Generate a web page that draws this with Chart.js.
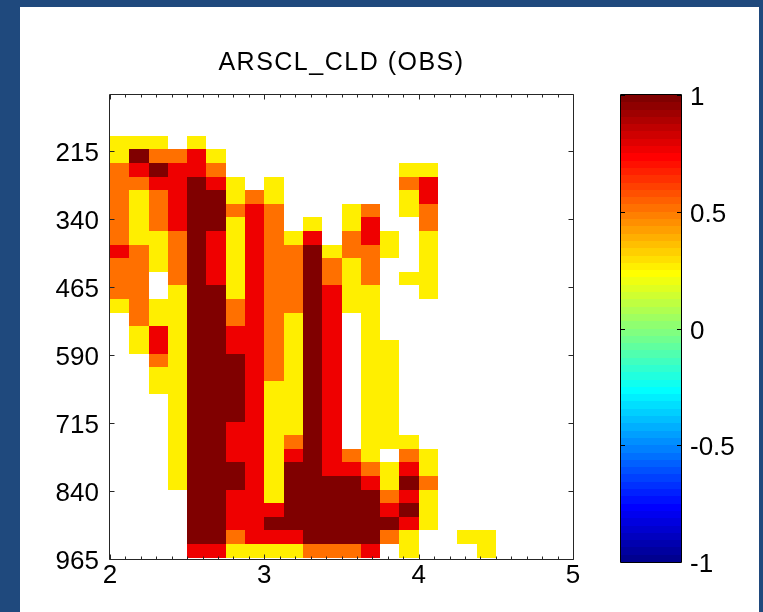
<!DOCTYPE html>
<html>
<head>
<meta charset="utf-8">
<script src="https://cdn.jsdelivr.net/npm/chart.js@4.4.1/dist/chart.umd.min.js"></script>
<style>
  html, body { margin: 0; padding: 0; width: 763px; height: 612px; overflow: hidden; background: #1f497d; }
  #panel { position: absolute; left: 20px; top: 7px; width: 739px; height: 605px; background: #fff; }
  #main { position: absolute; left: 0; top: 0; }
  #cbar { position: absolute; left: 580px; top: 0; }
</style>
</head>
<body>
<div id="panel">
  <canvas id="main" width="580" height="605"></canvas>
  <canvas id="cbar" width="159" height="605"></canvas>
</div>
<script>
// bin centres along x and pressure levels (hPa) of each row
const xCenters = [2.0625, 2.1875, 2.3125, 2.4375, 2.5625, 2.6875, 2.8125, 2.9375, 3.0625, 3.1875,
                  3.3125, 3.4375, 3.5625, 3.6875, 3.8125, 3.9375, 4.0625, 4.1875, 4.3125, 4.4375];
const levels = [200, 225, 250, 275, 300, 325, 350, 375, 400, 425, 450, 475, 500, 525, 550, 575,
                600, 625, 650, 675, 700, 725, 750, 775, 800, 825, 850, 875, 900, 925, 950];
const xTicks = [2, 3, 4, 5];
const yTicks = [215, 340, 465, 590, 715, 840, 965];
const cbTicks = [-1, -0.5, 0, 0.5, 1];

const _ = null;
// one row per level, one column per x bin
const cld = [
  [0.25, 0.25, 0.25, _, 0.25, _, _, _, _, _,          _, _, _, _, _, _, _, _, _, _],
  [0.25, 1, 0.5, 0.5, 0.75, 0.25, _, _, _, _,         _, _, _, _, _, _, _, _, _, _],
  [0.5, 0.75, 1, 0.75, 0.75, 0.5, _, _, _, _,         _, _, _, _, _, 0.25, 0.25, _, _, _],
  [0.5, 0.5, 0.75, 0.75, 1, 0.75, 0.25, _, 0.25, _,   _, _, _, _, _, 0.5, 0.75, _, _, _],
  [0.5, 0.25, 0.5, 0.75, 1, 1, 0.25, 0.5, 0.25, _,    _, _, _, _, _, 0.25, 0.75, _, _, _],
  [0.5, 0.25, 0.5, 0.75, 1, 1, 0.5, 0.75, 0.5, _,     _, _, 0.25, 0.5, _, 0.25, 0.5, _, _, _],
  [0.5, 0.25, 0.5, 0.75, 1, 1, 0.25, 0.75, 0.5, _,    0.25, _, 0.25, 0.75, _, _, 0.5, _, _, _],
  [0.5, 0.25, 0.25, 0.5, 1, 0.75, 0.25, 0.75, 0.5, 0.25,  0.75, _, 0.5, 0.75, 0.25, _, 0.25, _, _, _],
  [0.75, 0.5, 0.25, 0.5, 1, 0.75, 0.25, 0.75, 0.5, 0.5,   1, 0.25, 0.5, 0.5, 0.25, _, 0.25, _, _, _],
  [0.5, 0.5, 0.25, 0.5, 1, 0.75, 0.25, 0.75, 0.5, 0.5,    1, 0.5, 0.25, 0.5, _, _, 0.25, _, _, _],
  [0.5, 0.5, _, 0.5, 1, 0.75, 0.25, 0.75, 0.5, 0.5,       1, 0.5, 0.25, 0.5, _, 0.25, 0.25, _, _, _],
  [0.5, 0.5, _, 0.25, 1, 1, 0.25, 0.75, 0.5, 0.5,         1, 0.75, 0.25, 0.25, _, _, 0.25, _, _, _],
  [0.25, 0.5, 0.25, 0.25, 1, 1, 0.5, 0.75, 0.5, 0.5,      1, 0.75, 0.25, 0.25, _, _, _, _, _, _],
  [_, 0.5, 0.25, 0.25, 1, 1, 0.5, 0.75, 0.5, 0.25,        1, 0.75, _, 0.25, _, _, _, _, _, _],
  [_, 0.25, 0.75, 0.25, 1, 1, 0.75, 0.75, 0.5, 0.25,      1, 0.75, _, 0.25, _, _, _, _, _, _],
  [_, 0.25, 0.75, 0.25, 1, 1, 0.75, 0.75, 0.5, 0.25,      1, 0.75, _, 0.25, 0.25, _, _, _, _, _],
  [_, _, 0.5, 0.25, 1, 1, 1, 0.75, 0.5, 0.25,             1, 0.75, _, 0.25, 0.25, _, _, _, _, _],
  [_, _, 0.25, 0.25, 1, 1, 1, 0.75, 0.5, 0.25,            1, 0.75, _, 0.25, 0.25, _, _, _, _, _],
  [_, _, 0.25, 0.25, 1, 1, 1, 0.75, 0.25, 0.25,           1, 0.75, _, 0.25, 0.25, _, _, _, _, _],
  [_, _, _, 0.25, 1, 1, 1, 0.75, 0.25, 0.25,              1, 0.75, _, 0.25, 0.25, _, _, _, _, _],
  [_, _, _, 0.25, 1, 1, 1, 0.75, 0.25, 0.25,              1, 0.75, _, 0.25, 0.25, _, _, _, _, _],
  [_, _, _, 0.25, 1, 1, 0.75, 0.75, 0.25, 0.25,           1, 0.75, _, 0.25, 0.25, _, _, _, _, _],
  [_, _, _, 0.25, 1, 1, 0.75, 0.75, 0.25, 0.5,            1, 0.75, _, 0.25, 0.25, 0.25, _, _, _, _],
  [_, _, _, 0.25, 1, 1, 0.75, 0.75, 0.25, 0.75,           1, 0.75, 0.5, 0.25, _, 0.5, 0.25, _, _, _],
  [_, _, _, 0.25, 1, 1, 1, 0.75, 0.25, 1,                 1, 0.75, 0.75, 0.5, 0.25, 0.75, 0.25, _, _, _],
  [_, _, _, 0.25, 1, 1, 1, 0.75, 0.25, 1,                 1, 1, 1, 0.75, 0.25, 1, 0.5, _, _, _],
  [_, _, _, _, 1, 1, 0.75, 0.75, 0.25, 1,                 1, 1, 1, 1, 0.5, 0.75, 0.25, _, _, _],
  [_, _, _, _, 1, 1, 0.75, 0.75, 0.75, 1,                 1, 1, 1, 1, 0.75, 1, 0.25, _, _, _],
  [_, _, _, _, 1, 1, 0.75, 0.75, 1, 1,                    1, 1, 1, 1, 1, 0.75, 0.25, _, _, _],
  [_, _, _, _, 1, 1, 0.5, 0.75, 0.75, 0.75,               1, 1, 1, 1, 0.5, 0.25, _, _, 0.25, 0.25],
  [_, _, _, _, 0.75, 0.75, 0.25, 0.25, 0.25, 0.25,        0.5, 0.5, 0.5, 0.75, _, 0.25, _, _, _, 0.25]
];

const binW = 0.125;
const binH = 25;
const cMin = -1, cMax = 1;
const axisColor = '#262626';
const fontFamily = '"Liberation Sans", Arial, Helvetica, sans-serif';

// MATLAB-style jet(64) lookup
function jetRow(k) {
  const u = i => (i <= 16 ? i / 16 : i <= 31 ? 1 : (48 - i) / 16);
  const r = k >= 25 ? u(k - 24) : 0;
  const g = k >= 9 && k <= 55 ? u(k - 8) : 0;
  const b = k <= 39 ? u(k + 8) : 0;
  return 'rgb(' + Math.round(r * 255) + ',' + Math.round(g * 255) + ',' + Math.round(b * 255) + ')';
}
function jetColor(v) {
  const k = Math.floor((v - cMin) / (cMax - cMin) * 64) + 1;
  return jetRow(Math.min(64, Math.max(1, k)));
}

const cells = [];
levels.forEach((p, j) => {
  cld[j].forEach((v, i) => {
    if (v !== null) cells.push({ x: xCenters[i], y: p, v: v });
  });
});

// title is drawn before the datasets; give it a little letter spacing
const titleSpacing = {
  id: 'titleSpacing',
  beforeDraw(chart) { chart.ctx.letterSpacing = '1.5px'; },
  beforeDatasetsDraw(chart) { chart.ctx.letterSpacing = '0px'; }
};

// fill each cell as a rectangle on the chart's own scales
const heatCells = {
  id: 'heatCells',
  beforeDatasetsDraw(chart) {
    const { ctx, chartArea: a, scales: { x, y } } = chart;
    ctx.save();
    ctx.beginPath();
    ctx.rect(a.left, a.top, a.right - a.left, a.bottom - a.top);
    ctx.clip();
    chart.data.datasets[0].data.forEach(c => {
      const l = Math.round(x.getPixelForValue(c.x - binW / 2));
      const r = Math.round(x.getPixelForValue(c.x + binW / 2));
      const t = Math.round(y.getPixelForValue(c.y - binH / 2));
      const b = Math.round(y.getPixelForValue(c.y + binH / 2));
      ctx.fillStyle = jetColor(c.v);
      ctx.fillRect(l, Math.min(t, b), r - l, Math.abs(b - t));
    });
    ctx.restore();
  }
};

// boxed axes with inward ticks on all four sides
const boxTicks = {
  id: 'boxTicks',
  afterDraw(chart) {
    const { ctx, chartArea: a, scales: { x, y } } = chart;
    const L = a.left - 0.5, R = a.right + 0.5, T = a.top - 0.5, B = a.bottom + 0.5;
    ctx.save();
    ctx.strokeStyle = axisColor;
    ctx.lineWidth = 1;
    ctx.beginPath();
    ctx.rect(L, T, R - L, B - T);
    x.ticks.forEach(t => {
      const px = Math.round(x.getPixelForValue(t.value)) + 0.5;
      ctx.moveTo(px, B); ctx.lineTo(px, B - 5);
      ctx.moveTo(px, T); ctx.lineTo(px, T + 5);
    });
    for (let m = 21; m < 50; m++) {
      if (m % 10 === 0) continue;
      const px = Math.round(x.getPixelForValue(m / 10)) + 0.5;
      ctx.moveTo(px, B); ctx.lineTo(px, B - 3);
      ctx.moveTo(px, T); ctx.lineTo(px, T + 3);
    }
    y.ticks.forEach(t => {
      const py = Math.round(y.getPixelForValue(t.value)) + 0.5;
      ctx.moveTo(L, py); ctx.lineTo(L + 5, py);
      ctx.moveTo(R, py); ctx.lineTo(R - 5, py);
    });
    ctx.stroke();
    ctx.restore();
  }
};

Chart.defaults.font.family = fontFamily;
Chart.defaults.color = '#000';

new Chart(document.getElementById('main'), {
  type: 'scatter',
  data: {
    datasets: [{ data: cells, pointRadius: 0, pointHoverRadius: 0 }]
  },
  options: {
    responsive: false,
    animation: false,
    events: [],
    layout: { padding: { left: 0, right: 27, top: 0, bottom: 13 } },
    plugins: {
      legend: { display: false },
      tooltip: { enabled: false },
      title: {
        display: true,
        fullSize: false,
        text: 'ARSCL_CLD (OBS)',
        color: '#000',
        font: { size: 25, weight: 'normal' },
        padding: { top: 41.5, bottom: 16.5 }
      }
    },
    scales: {
      x: {
        type: 'linear',
        min: 2,
        max: 5,
        grid: { display: false, drawTicks: false },
        border: { display: false },
        ticks: { font: { size: 26 }, padding: 1, z: 1 },
        afterBuildTicks: s => { s.ticks = xTicks.map(v => ({ value: v })); },
        afterFit: s => { s.height = 40; s.paddingLeft = 0; s.paddingRight = 0; }
      },
      y: {
        type: 'linear',
        reverse: true,
        min: 112.5,
        max: 965,
        grid: { display: false, drawTicks: false },
        border: { display: false },
        ticks: { font: { size: 26 }, padding: 11, labelOffset: 3, z: 1 },
        afterBuildTicks: s => { s.ticks = yTicks.map(v => ({ value: v })); },
        afterFit: s => { s.width = 90; s.paddingTop = 0; s.paddingBottom = 0; }
      }
    }
  },
  plugins: [titleSpacing, heatCells, boxTicks]
});

// colour bar: 64 jet bands stacked along the value axis
const colorBand = {
  id: 'colorBand',
  beforeDatasetsDraw(chart) {
    const { ctx, chartArea: a, scales: { y } } = chart;
    ctx.save();
    for (let k = 1; k <= 64; k++) {
      const lo = cMin + (k - 1) * (cMax - cMin) / 64;
      const hi = cMin + k * (cMax - cMin) / 64;
      const top = Math.round(y.getPixelForValue(hi));
      const bot = Math.round(y.getPixelForValue(lo));
      ctx.fillStyle = jetRow(k);
      ctx.fillRect(a.left, top, a.right - a.left, bot - top);
    }
    ctx.strokeStyle = '#000';
    ctx.lineWidth = 1;
    ctx.beginPath();
    ctx.rect(a.left - 0.5, a.top - 0.5, a.right - a.left + 1, a.bottom - a.top + 1);
    y.ticks.forEach(t => {
      const py = Math.round(y.getPixelForValue(t.value)) + 0.5;
      ctx.moveTo(a.left, py); ctx.lineTo(a.left + 4, py);
      ctx.moveTo(a.right, py); ctx.lineTo(a.right - 4, py);
    });
    ctx.stroke();
    ctx.restore();
  }
};

new Chart(document.getElementById('cbar'), {
  type: 'scatter',
  data: { datasets: [{ data: [], pointRadius: 0 }] },
  options: {
    responsive: false,
    animation: false,
    events: [],
    layout: { padding: { left: 21, right: 0, top: 88, bottom: 50 } },
    plugins: { legend: { display: false }, tooltip: { enabled: false } },
    scales: {
      x: { display: false, min: 0, max: 1 },
      y: {
        position: 'right',
        min: cMin,
        max: cMax,
        grid: { display: false, drawTicks: false },
        border: { display: false },
        ticks: { font: { size: 26 }, padding: 9, labelOffset: 3, callback: v => String(v) },
        afterBuildTicks: s => { s.ticks = cbTicks.map(v => ({ value: v })); },
        afterFit: s => { s.width = 78; s.paddingTop = 0; s.paddingBottom = 0; }
      }
    }
  },
  plugins: [colorBand]
});
</script>
</body>
</html>
